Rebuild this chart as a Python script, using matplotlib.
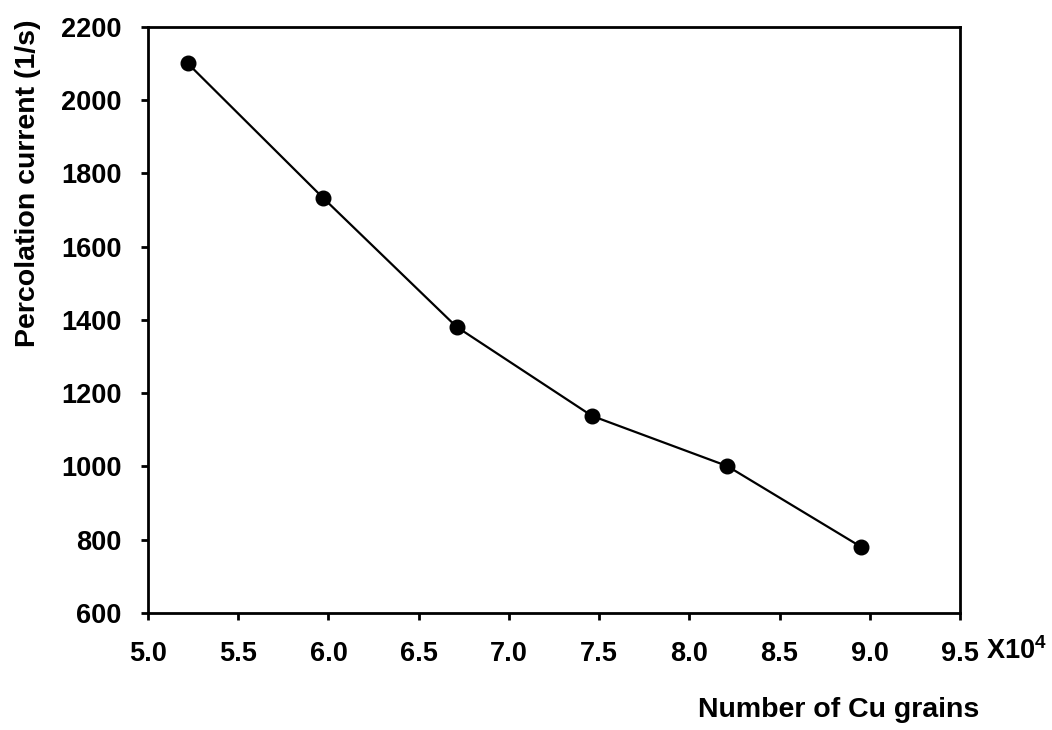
import numpy as np
import matplotlib
matplotlib.use("Agg")
import matplotlib.pyplot as plt

plt.rcParams['font.family'] = ['Liberation Sans', 'DejaVu Sans']
plt.rcParams['font.weight'] = 'bold'
plt.rcParams['mathtext.fontset'] = 'custom'
plt.rcParams['mathtext.rm'] = 'Liberation Sans:bold'
plt.rcParams['mathtext.bf'] = 'Liberation Sans:bold'

# number of Cu grains (x 10^4) vs percolation current
grains = [5.22, 5.97, 6.71, 7.46, 8.21, 8.95]
current = [2100, 1733, 1381, 1138, 1001, 781]

xticks = [5.0, 5.5, 6.0, 6.5, 7.0, 7.5, 8.0, 8.5, 9.0, 9.5]
yticks = [600, 800, 1000, 1200, 1400, 1600, 1800, 2000, 2200]

fig = plt.figure(figsize=(10.52, 7.30), dpi=100)
ax = fig.add_axes([0.1407, 0.1603, 0.7718, 0.8031])

ax.plot(grains, current, color="black", lw=1.6, marker="o", ms=10.5,
        markerfacecolor="black", markeredgecolor="black")

ax.set_xlim(5.0, 9.5)
ax.set_ylim(600, 2200)
ax.set_xticks(xticks)
ax.set_xticklabels(["%.1f" % t for t in xticks])
ax.set_yticks(yticks)

for s in ax.spines.values():
    s.set_linewidth(2)
ax.tick_params(direction="out", length=5, width=2, labelsize=19.5)
ax.tick_params(axis="x", pad=15)
ax.tick_params(axis="y", pad=14)

ax.set_xlabel("Number of Cu grains", fontsize=20.5, fontweight="bold")
ax.xaxis.set_label_coords(0.851, -0.143)

ax.set_ylabel("Percolation current (1/s)", fontsize=20.5, fontweight="bold")
ax.yaxis.label.set_va("center")
ax.yaxis.set_label_coords(-0.148, 0.733)

fig.text(986 / 1052, 1 - 651 / 730, r"X10$^{4}$", fontsize=19.5,
         fontweight="bold", ha="left", va="center")

fig.savefig("out.png", dpi=100)
